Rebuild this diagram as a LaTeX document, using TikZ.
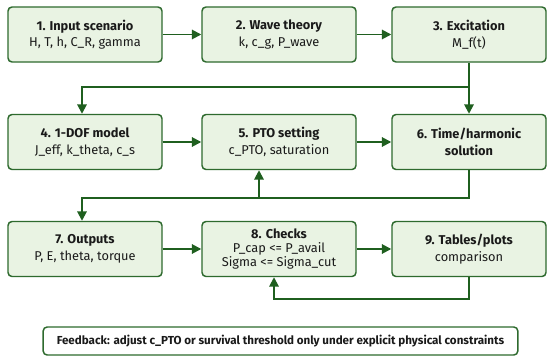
\documentclass[tikz,border=0pt]{standalone}
\usepackage{fontspec}
\setmainfont{Fira Sans}
\usetikzlibrary{arrows.meta}
\definecolor{boxfill}{HTML}{E9F3E3}
\definecolor{boxdraw}{HTML}{2E6A2E}
\definecolor{arrcol}{HTML}{1F5F1F}
\definecolor{txt}{HTML}{1A1A1A}
\begin{document}
\begin{tikzpicture}[x=0.75pt,y=-0.75pt,
  stepbox/.style={draw=boxdraw, fill=boxfill, line width=1.1pt, rounded corners=3pt,
    minimum width=115.5pt, minimum height=41.25pt, align=center, inner sep=0pt,
    text=txt, font=\fontsize{9.6}{12.4}\selectfont},
  fbbox/.style={draw=boxdraw, fill=white, line width=1.1pt, rounded corners=3pt,
    minimum width=356pt, minimum height=21pt, inner sep=0pt, text=txt,
    font=\fontsize{8.7}{10}\selectfont\bfseries},
  arr/.style={draw=arrcol, line width=1.4pt, -{Triangle[length=7pt,width=7pt]}},
]
\useasboundingbox (0,0) rectangle (550,364);
\fill[white] (0,0) rectangle (550,364);

\node[stepbox] (b1) at (85,34.5) {{\bfseries 1. Input scenario}\\H, T, h, C\_R, gamma};
\node[stepbox] (b2) at (279,34.5) {{\bfseries 2. Wave theory}\\k, c\_g, P\_wave};
\node[stepbox] (b3) at (469,34.5) {{\bfseries 3. Excitation}\\M\_f(t)};
\node[stepbox] (b4) at (85,142) {{\bfseries 4. 1-DOF model}\\J\_eff, k\_theta, c\_s};
\node[stepbox] (b5) at (279,142) {{\bfseries 5. PTO setting}\\c\_PTO, saturation};
\node[stepbox] (b6) at (469,142) {\bfseries 6. Time/harmonic\\\bfseries solution};
\node[stepbox] (b7) at (85,249) {{\bfseries 7. Outputs}\\P, E, theta, torque};
\node[stepbox, font=\fontsize{9.6}{10.8}\selectfont] (b8) at (279,249) {{\bfseries 8. Checks}\\P\_cap <= P\_avail\\Sigma <= Sigma\_cut};
\node[stepbox] (b9) at (469,249) {{\bfseries 9. Tables/plots}\\comparison};
\node[fbbox] (fb) at (280.5,341) {Feedback: adjust c\_PTO or survival threshold only under explicit physical constraints};

\draw[arr] (b1) -- (b2);
\draw[arr] (b2) -- (b3);
\draw[arr] (b4) -- (b5);
\draw[arr] (b5) -- (b6);
\draw[arr] (b7) -- (b8);
\draw[arr] (b8) -- (b9);

\draw[arr] (b3) -- (b6);
\coordinate (j1) at (469,87);
\coordinate (k1) at (82,87);
\draw[arr] (j1) -- (k1) -- (k1 |- b4.north);

\coordinate (k2) at (82,198);
\draw[arr] (b6.south) |- (k2) -- (k2 |- b7.north);
\coordinate (k3) at (259,198);
\draw[arr] (k3) -- (k3 |- b5.south);

\coordinate (k4) at (274,299);
\draw[arr] (b9.south) |- (k4) -- (k4 |- b8.south);
\end{tikzpicture}
\end{document}
